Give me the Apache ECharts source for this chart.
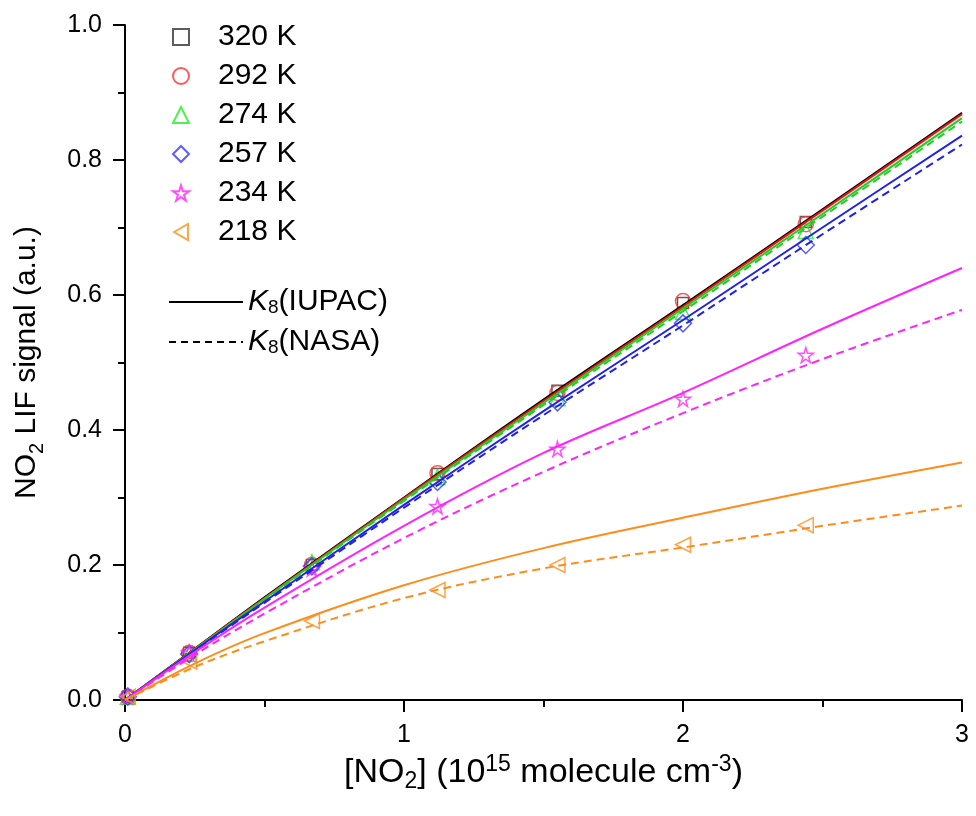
<!DOCTYPE html>
<html>
<head>
<meta charset="utf-8">
<script src="https://cdn.jsdelivr.net/npm/echarts@6/dist/echarts.min.js"></script>
<style>
  html, body { margin: 0; padding: 0; background: #fff; }
  #chart { width: 976px; height: 816px; }
</style>
</head>
<body>
<div id="chart"></div>
<script>
// measured points
var xMeas = [0.01, 0.23, 0.67, 1.12, 1.55, 2.0, 2.44];
var y320 = [0.005, 0.070, 0.200, 0.335, 0.458, 0.588, 0.708];
var y292 = [0.005, 0.070, 0.200, 0.336, 0.455, 0.591, 0.705];
var y274 = [0.005, 0.068, 0.204, 0.330, 0.447, 0.575, 0.695];
var y257 = [0.005, 0.068, 0.198, 0.323, 0.441, 0.558, 0.674];
var y234 = [0.005, 0.070, 0.195, 0.287, 0.372, 0.446, 0.511];
var y218 = [0.005, 0.057, 0.117, 0.163, 0.200, 0.230, 0.259];

// model curves
var xFit = [0, 0.25, 0.5, 1, 1.5, 2, 2.5, 3];
var fit320Iupac = [0, 0.076, 0.152, 0.300, 0.445, 0.585, 0.727, 0.870];
var fit292Iupac = [0, 0.076, 0.151, 0.299, 0.443, 0.583, 0.725, 0.868];
var fit274Iupac = [0, 0.075, 0.150, 0.297, 0.440, 0.580, 0.720, 0.862];
var fit274Nasa  = [0, 0.075, 0.149, 0.295, 0.437, 0.576, 0.716, 0.857];
var fit257Iupac = [0, 0.074, 0.146, 0.289, 0.428, 0.563, 0.700, 0.836];
var fit257Nasa  = [0, 0.073, 0.144, 0.285, 0.422, 0.555, 0.690, 0.823];
var fit234Iupac = [0, 0.071, 0.137, 0.258, 0.366, 0.455, 0.550, 0.640];
var fit234Nasa  = [0, 0.067, 0.128, 0.240, 0.338, 0.425, 0.505, 0.578];
var fit218Iupac = [0, 0.054, 0.099, 0.170, 0.225, 0.270, 0.313, 0.352];
var fit218Nasa  = [0, 0.049, 0.087, 0.151, 0.195, 0.226, 0.258, 0.288];

var FONT = '"Liberation Sans", Arial, sans-serif';
var STAR = 'path://M50,0 L61,35 L98,35 L68,57 L79,91 L50,70 L21,91 L32,57 L2,35 L39,35 Z';
var LEFT_TRI = 'path://M0,50 L87,0 L87,100 Z';

function pairs(xs, ys) {
    return ys.map(function (v, i) { return [xs[i], v]; });
}

function scatter(name, ys, color, symbol, size) {
    return {
        name: name,
        type: 'scatter',
        data: pairs(xMeas, ys),
        symbol: symbol,
        symbolSize: size,
        itemStyle: { color: 'rgba(255,255,255,0)', borderColor: color, borderWidth: 1.5 },
        silent: true,
        z: 2
    };
}

function fitLine(ys, color, dashed) {
    return {
        type: 'line',
        data: pairs(xFit, ys),
        smooth: 0.35,
        symbol: 'none',
        lineStyle: { color: color, width: 2, type: dashed ? [8, 5] : 'solid' },
        silent: true,
        z: 3
    };
}

function titleRich(size, small) {
    return {
        a: { fontFamily: FONT, fontSize: size, color: '#000', lineHeight: 40 },
        s: { fontFamily: FONT, fontSize: small, color: '#000', lineHeight: small, verticalAlign: 'bottom' },
        p: { fontFamily: FONT, fontSize: small, color: '#000', lineHeight: small, verticalAlign: 'top' }
    };
}
var tickLabel = { fontFamily: FONT, fontSize: 25, color: '#000' };
var axisBlack = { color: '#000', width: 2 };

var options = {
    backgroundColor: '#fff',
    animation: false,
    grid: { left: 125, right: 14, top: 25, bottom: 116 },
    legend: [
        {
            data: ['320 K', '292 K', '274 K', '257 K', '234 K', { name: '218 K', icon: LEFT_TRI }],
            orient: 'vertical',
            left: 167,
            top: 17,
            itemWidth: 16,
            itemHeight: 16,
            itemGap: 9,
            textStyle: { fontFamily: FONT, fontSize: 30, lineHeight: 30, color: '#000', padding: [0, 0, 0, 24] }
        },
        {
            data: ['K8(IUPAC)', 'K8(NASA)'],
            orient: 'vertical',
            left: 163,
            top: 282,
            itemWidth: 74,
            itemHeight: 14,
            itemGap: 10,
            itemStyle: { opacity: 0 },
            formatter: function (name) {
                return name === 'K8(IUPAC)' ? '{k|K}{s|8}{t|(IUPAC)}' : '{k|K}{s|8}{t|(NASA)}';
            },
            textStyle: {
                fontFamily: FONT, fontSize: 30, color: '#000', padding: [0, 0, 0, 0],
                rich: {
                    k: { fontFamily: FONT, fontSize: 30, fontStyle: 'italic', lineHeight: 30, color: '#000' },
                    s: { fontFamily: FONT, fontSize: 19, lineHeight: 19, verticalAlign: 'bottom', color: '#000' },
                    t: { fontFamily: FONT, fontSize: 30, lineHeight: 30, color: '#000' }
                }
            }
        }
    ],
    xAxis: {
        type: 'value',
        min: 0,
        max: 3,
        interval: 1,
        name: '{a|[NO}{s|2}{a|] (10}{p|15}{a| molecule cm}{p|-3}{a|)}',
        nameLocation: 'middle',
        nameGap: 50,
        nameTextStyle: { rich: titleRich(34, 23) },
        axisLine: { lineStyle: axisBlack },
        axisTick: { inside: false, length: 12, lineStyle: axisBlack },
        minorTick: { show: true, splitNumber: 2, length: 7, lineStyle: axisBlack },
        splitLine: { show: false },
        axisLabel: Object.assign({ margin: 23 }, tickLabel)
    },
    yAxis: {
        type: 'value',
        min: 0,
        max: 1,
        interval: 0.2,
        name: '{a|NO}{s|2}{a| LIF signal (a.u.)}',
        nameLocation: 'middle',
        nameGap: 78,
        nameTextStyle: { rich: titleRich(30, 20) },
        axisLine: { show: true, lineStyle: axisBlack },
        axisTick: { show: true, inside: false, length: 12, lineStyle: axisBlack },
        minorTick: { show: true, splitNumber: 2, length: 7, lineStyle: axisBlack },
        splitLine: { show: false },
        axisLabel: Object.assign({
            margin: 23,
            formatter: function (v) { return v.toFixed(1); }
        }, tickLabel)
    },
    series: [
        scatter('320 K', y320, '#333333', 'rect', 11),
        scatter('292 K', y292, '#ff3030', 'circle', 15),
        scatter('274 K', y274, '#22ee22', 'triangle', 15),
        scatter('257 K', y257, '#3535ff', 'diamond', 17),
        scatter('234 K', y234, '#ff22ff', STAR, 15),
        scatter('218 K', y218, '#ff8c1a', LEFT_TRI, 15),
        fitLine(fit274Nasa, '#22cc22', true),
        fitLine(fit257Nasa, '#2020ee', true),
        fitLine(fit234Nasa, '#ff22ff', true),
        fitLine(fit218Nasa, '#ff8c1a', true),
        fitLine(fit320Iupac, '#000000', false),
        fitLine(fit292Iupac, '#ee1111', false),
        fitLine(fit274Iupac, '#22cc22', false),
        fitLine(fit257Iupac, '#2020ee', false),
        fitLine(fit234Iupac, '#ff22ff', false),
        fitLine(fit218Iupac, '#ff8c1a', false),
        // legend entries for the two rate-constant sets
        { name: 'K8(IUPAC)', type: 'line', data: [], symbol: 'none', lineStyle: { color: '#000', width: 1.5 }, itemStyle: { color: '#000', opacity: 0 } },
        { name: 'K8(NASA)', type: 'line', data: [], symbol: 'none', lineStyle: { color: '#000', width: 1.5, type: [7, 5] }, itemStyle: { color: '#000', opacity: 0 } }
    ]
};

var chart = echarts.init(document.getElementById('chart'));
chart.setOption(options);
</script>
</body>
</html>
